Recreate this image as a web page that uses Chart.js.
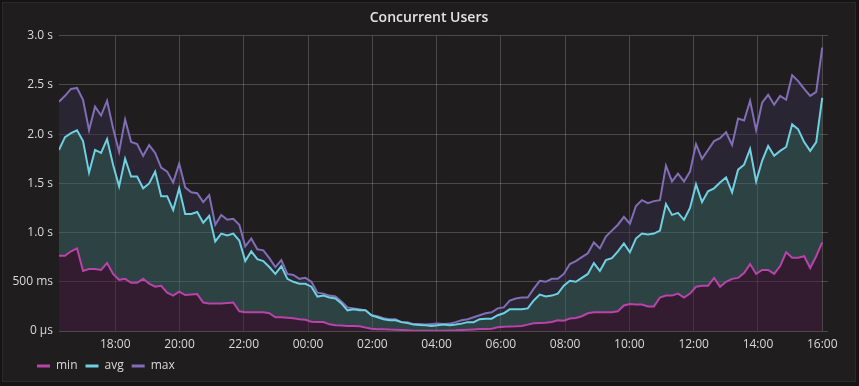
<!DOCTYPE html>
<html>
<head>
<meta charset="utf-8">
<script src="https://cdn.jsdelivr.net/npm/chart.js@4/dist/chart.umd.min.js"></script>
<style>
  body { margin: 0; background: #141414; }
  .panel {
    position: absolute; left: 2px; top: 2px; width: 854px; height: 380px;
    background: #1f1d1e; border: 1px solid #2a2a2a; box-sizing: border-box;
  }
  #chart { position: absolute; left: 0; top: 0; }
</style>
</head>
<body>
<div class="panel"></div>
<canvas id="chart" width="859" height="386"></canvas>
<script>
// time span of the series, in hours (16:15 -> 16:00 next day)
const startHour = 16.25
const endHour = 40

const xTickHours = [18, 20, 22, 24, 26, 28, 30, 32, 34, 36, 38, 40]
const xTickLabels = ['18:00', '20:00', '22:00', '00:00', '02:00', '04:00',
  '06:00', '08:00', '10:00', '12:00', '14:00', '16:00']
const yTickLabels = ['0 µs', '500 ms', '1.0 s', '1.5 s', '2.0 s', '2.5 s', '3.0 s']

// seconds
const minValues = [
  0.765, 0.765, 0.81, 0.84, 0.61, 0.63, 0.63, 0.62, 0.69, 0.58, 0.52, 0.53, 0.49, 0.49, 0.53, 0.48,
  0.45, 0.46, 0.39, 0.36, 0.40, 0.365, 0.37, 0.375, 0.29, 0.28, 0.28, 0.28, 0.285, 0.29, 0.20, 0.19,
  0.19, 0.19, 0.19, 0.18, 0.14, 0.14, 0.135, 0.13, 0.12, 0.115, 0.095, 0.092, 0.092, 0.068, 0.058, 0.055,
  0.051, 0.05, 0.048, 0.035, 0.024, 0.017, 0.017, 0.014, 0.013, 0.010, 0.007, 0.003, 0.003, 0.003, 0.003, 0.003,
  0.003, 0.006, 0.007, 0.010, 0.013, 0.016, 0.020, 0.020, 0.024, 0.037, 0.044, 0.047, 0.048, 0.051, 0.065, 0.078,
  0.082, 0.085, 0.092, 0.109, 0.105, 0.126, 0.133, 0.15, 0.18, 0.19, 0.19, 0.19, 0.19, 0.20, 0.26, 0.275,
  0.27, 0.27, 0.25, 0.25, 0.34, 0.36, 0.36, 0.38, 0.34, 0.38, 0.45, 0.46, 0.46, 0.54, 0.45, 0.50,
  0.53, 0.54, 0.59, 0.68, 0.58, 0.62, 0.62, 0.58, 0.66, 0.80, 0.745, 0.745, 0.76, 0.64, 0.76, 0.90
]
const avgValues = [
  1.84, 1.97, 2.01, 2.04, 1.93, 1.61, 1.84, 1.81, 1.95, 1.69, 1.47, 1.75, 1.57, 1.57, 1.45, 1.50,
  1.62, 1.37, 1.37, 1.23, 1.45, 1.19, 1.19, 1.21, 1.10, 1.17, 0.91, 0.99, 0.97, 0.99, 0.92, 0.71,
  0.81, 0.73, 0.71, 0.65, 0.58, 0.66, 0.53, 0.50, 0.48, 0.48, 0.45, 0.35, 0.36, 0.34, 0.33, 0.28,
  0.21, 0.22, 0.21, 0.21, 0.16, 0.14, 0.12, 0.11, 0.11, 0.09, 0.08, 0.065, 0.06, 0.058, 0.05, 0.058,
  0.065, 0.058, 0.065, 0.075, 0.09, 0.09, 0.12, 0.125, 0.125, 0.16, 0.18, 0.22, 0.22, 0.22, 0.23, 0.31,
  0.37, 0.35, 0.36, 0.38, 0.46, 0.51, 0.50, 0.54, 0.58, 0.69, 0.61, 0.72, 0.74, 0.81, 0.89, 0.80,
  0.94, 0.99, 0.98, 0.99, 1.02, 1.29, 1.18, 1.20, 1.13, 1.25, 1.49, 1.31, 1.42, 1.45, 1.51, 1.56,
  1.41, 1.64, 1.69, 1.85, 1.52, 1.73, 1.88, 1.78, 1.83, 1.87, 2.10, 2.05, 1.92, 1.83, 1.92, 2.37
]
const maxValues = [
  2.33, 2.39, 2.46, 2.47, 2.35, 2.04, 2.28, 2.19, 2.34, 2.06, 1.82, 2.15, 1.92, 1.90, 1.78, 1.89,
  1.81, 1.66, 1.62, 1.51, 1.70, 1.46, 1.41, 1.40, 1.31, 1.38, 1.08, 1.18, 1.13, 1.14, 1.08, 0.86,
  0.94, 0.83, 0.82, 0.74, 0.65, 0.72, 0.58, 0.57, 0.53, 0.54, 0.50, 0.39, 0.38, 0.36, 0.35, 0.30,
  0.24, 0.23, 0.22, 0.21, 0.16, 0.15, 0.13, 0.12, 0.12, 0.09, 0.09, 0.07, 0.07, 0.065, 0.07, 0.075,
  0.07, 0.075, 0.09, 0.11, 0.12, 0.14, 0.16, 0.18, 0.19, 0.23, 0.24, 0.31, 0.33, 0.34, 0.34, 0.43,
  0.51, 0.50, 0.53, 0.53, 0.58, 0.68, 0.71, 0.75, 0.79, 0.90, 0.84, 0.96, 1.02, 1.08, 1.16, 1.09,
  1.27, 1.33, 1.30, 1.32, 1.33, 1.68, 1.52, 1.60, 1.52, 1.62, 1.90, 1.75, 1.84, 1.93, 1.96, 2.02,
  1.89, 2.16, 2.14, 2.34, 2.04, 2.32, 2.40, 2.30, 2.39, 2.35, 2.60, 2.54, 2.46, 2.39, 2.43, 2.88
]

// samples are evenly spaced over the time span
function toPoints(values) {
  const step = (endHour - startHour) / (values.length - 1)
  return values.map((v, i) => ({ x: startHour + i * step, y: v }))
}

const textColor = '#d8d9da'
const gridColor = 'rgba(255, 255, 255, 0.2)'

// nudge legend right and centre the title on the whole panel, like grafana
const panelOffsets = {
  id: 'panelOffsets',
  afterLayout(chart) {
    chart.legend.left += 29
    chart.legend.right += 29
    chart.titleBlock.left += 15
    chart.titleBlock.right += 15
  }
}

new Chart(document.getElementById('chart'), {
  type: 'line',
  data: {
    datasets: [
      {
        label: 'min',
        data: toPoints(minValues),
        borderColor: '#ba43a9',
        backgroundColor: 'rgba(71, 27, 66, 0.5)',
        fill: 'origin'
      },
      {
        label: 'avg',
        data: toPoints(avgValues),
        borderColor: '#6ed0e0',
        backgroundColor: 'rgba(57, 103, 104, 0.5)',
        fill: '-1'
      },
      {
        label: 'max',
        data: toPoints(maxValues),
        borderColor: '#806eb7',
        backgroundColor: 'rgba(53, 45, 70, 0.5)',
        fill: '-1'
      }
    ]
  },
  options: {
    responsive: false,
    animation: false,
    layout: { padding: { left: 0, right: 31, top: 0, bottom: 4 } },
    elements: {
      point: { radius: 0 },
      line: { borderWidth: 2, tension: 0 }
    },
    plugins: {
      tooltip: { enabled: false },
      title: {
        display: true,
        text: 'Concurrent Users',
        color: '#e4e4e4',
        font: { family: 'Open Sans', size: 14, weight: '600' },
        padding: { top: 10, bottom: 9 }
      },
      legend: {
        position: 'bottom',
        align: 'start',
        labels: {
          color: textColor,
          font: { family: 'Open Sans', size: 12 },
          boxWidth: 13,
          boxHeight: 3,
          padding: 8,
          generateLabels: chart => chart.data.datasets.map((d, i) => ({
            text: d.label,
            fillStyle: d.borderColor,
            strokeStyle: d.borderColor,
            lineWidth: 0,
            fontColor: textColor,
            hidden: false,
            datasetIndex: i
          }))
        }
      }
    },
    scales: {
      x: {
        type: 'linear',
        min: startHour,
        max: 40.18,
        afterBuildTicks: s => { s.ticks = xTickHours.map(v => ({ value: v })) },
        afterFit: s => { s.height = 21 },
        grid: { color: gridColor, drawTicks: false },
        border: { display: false },
        ticks: {
          color: textColor,
          font: { family: 'Open Sans', size: 12 },
          padding: 6,
          autoSkip: false,
          maxRotation: 0,
          callback: (v, i) => xTickLabels[i]
        }
      },
      y: {
        min: 0,
        max: 3,
        afterFit: s => { s.width = 59 },
        grid: { color: gridColor, drawTicks: false },
        border: { display: false },
        ticks: {
          stepSize: 0.5,
          color: textColor,
          font: { family: 'Open Sans', size: 12 },
          padding: 6,
          callback: (v, i) => yTickLabels[i]
        }
      }
    }
  },
  plugins: [panelOffsets]
})
</script>
</body>
</html>
